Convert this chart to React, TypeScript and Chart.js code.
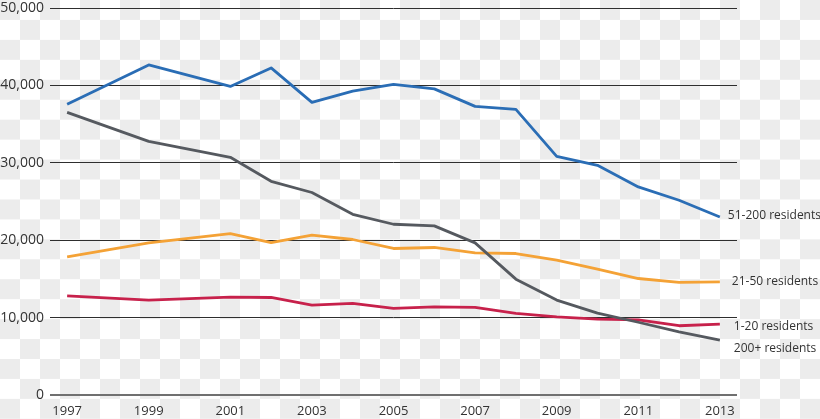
import React, { useEffect, useRef } from "react";
import { Chart, registerables } from "chart.js";

Chart.register(...registerables);

// ---- data ----
const years = [1997, 1999, 2001, 2002, 2003, 2004, 2005, 2006, 2007, 2008, 2009, 2010, 2011, 2012, 2013];
const tickYears = [1997, 1999, 2001, 2003, 2005, 2007, 2009, 2011, 2013];
const yTickValues = [0, 10000, 20000, 30000, 40000, 50000];

const homes51to200 = [37550, 42650, 39870, 42260, 37800, 39270, 40130, 39550, 37290, 36900, 30840, 29680, 26880, 25160, 23000];
const homes200plus = [36520, 32770, 30710, 27610, 26160, 23350, 22060, 21850, 19650, 14970, 12260, 10580, 9400, 8170, 7100];
const homes21to50 = [17850, 19650, 20860, 19700, 20650, 20090, 18930, 19060, 18360, 18280, 17420, 16260, 15050, 14540, 14620];
const homes1to20 = [12810, 12260, 12640, 12600, 11610, 11830, 11190, 11390, 11310, 10540, 10100, 9800, 9700, 8950, 9160];

const seriesLabels = ["51-200 residents", "200+ residents", "21-50 residents", "1-20 residents"];

const FONT = "'Open Sans', 'Noto Sans', sans-serif";

const endLabelPlugin = {
  id: "endLabels",
  afterDatasetsDraw(chart: any, _args: any, opts: any) {
    const ctx = chart.ctx;
    ctx.save();
    ctx.font = `12px ${FONT}`;
    ctx.fillStyle = "#333333";
    ctx.textAlign = "left";
    ctx.textBaseline = "middle";
    chart.data.datasets.forEach((ds: any, i: number) => {
      const meta = chart.getDatasetMeta(i);
      const pt = meta.data[meta.data.length - 1];
      if (!pt) return;
      const off = (opts.offsets && opts.offsets[i]) || [10, 0];
      ctx.fillText(ds.label, pt.x + off[0], pt.y + off[1]);
    });
    ctx.restore();
  },
};

function toPoints(values: number[]) {
  return values.map((v, i) => ({ x: years[i], y: v }));
}

export default function App() {
  const canvasRef = useRef<HTMLCanvasElement | null>(null);

  useEffect(() => {
    const canvas = canvasRef.current;
    if (!canvas) return;
    const colors = ["#2a6db5", "#55595f", "#f4a236", "#c7214b"];
    const seriesValues = [homes51to200, homes200plus, homes21to50, homes1to20];
    const chart = new Chart(canvas, {
      type: "line",
      data: {
        datasets: seriesValues.map((vals, i) => ({
          label: seriesLabels[i],
          data: toPoints(vals),
          borderColor: colors[i],
          backgroundColor: colors[i],
          borderWidth: 2.8,
          pointRadius: 0,
          pointHoverRadius: 0,
          tension: 0,
          fill: false,
          borderJoinStyle: "round" as const,
        })),
      },
      options: {
        responsive: false,
        animation: false,
        devicePixelRatio: 1,
        layout: { padding: { top: 8, right: 83, left: 0, bottom: 0 } },
        plugins: {
          legend: { display: false },
          tooltip: { enabled: false },
          endLabels: {
            offsets: [
              [8, -1.5],
              [14, 9],
              [12, 0],
              [14, 2.5],
            ],
          },
        } as any,
        scales: {
          x: {
            type: "linear",
            min: 1996.58,
            max: 2013.42,
            grid: { display: false, drawTicks: false },
            border: { display: false },
            afterBuildTicks: (scale: any) => {
              scale.ticks = tickYears.map((v) => ({ value: v }));
            },
            afterFit: (scale: any) => {
              scale.height = 24;
              scale.paddingLeft = 0;
              scale.paddingRight = 0;
            },
            ticks: {
              autoSkip: false,
              maxRotation: 0,
              padding: 8,
              color: "#333333",
              font: { family: FONT, size: 13 },
              callback: (v: any) => String(v),
            },
          },
          y: {
            min: 0,
            max: 50000,
            afterBuildTicks: (scale: any) => {
              scale.ticks = yTickValues.map((v) => ({ value: v }));
            },
            afterFit: (scale: any) => {
              scale.width = 50;
              scale.paddingTop = 0;
              scale.paddingBottom = 0;
            },
            border: { display: false },
            grid: {
              drawTicks: false,
              color: (c: any) => (c.tick && c.tick.value === 0 ? "#707070" : "#2e2e2e"),
              lineWidth: (c: any) => (c.tick && c.tick.value === 0 ? 2 : 1),
            },
            ticks: {
              padding: 6,
              color: "#333333",
              font: { family: FONT, size: 14 },
              callback: (v: any) => Number(v).toLocaleString("en-US"),
            },
          },
        },
      },
      plugins: [endLabelPlugin],
    });
    return () => chart.destroy();
  }, []);

  return (
    <div
      style={{
        position: "fixed",
        left: 0,
        top: 0,
        width: 820,
        height: 419,
        backgroundColor: "#ffffff",
        backgroundImage: "repeating-conic-gradient(#ffffff 0% 25%, #ececec 0% 50%)",
        backgroundSize: "40px 39.9px",
      }}
    >
      <canvas ref={canvasRef} width={820} height={419} style={{ display: "block" }} />
    </div>
  );
}
